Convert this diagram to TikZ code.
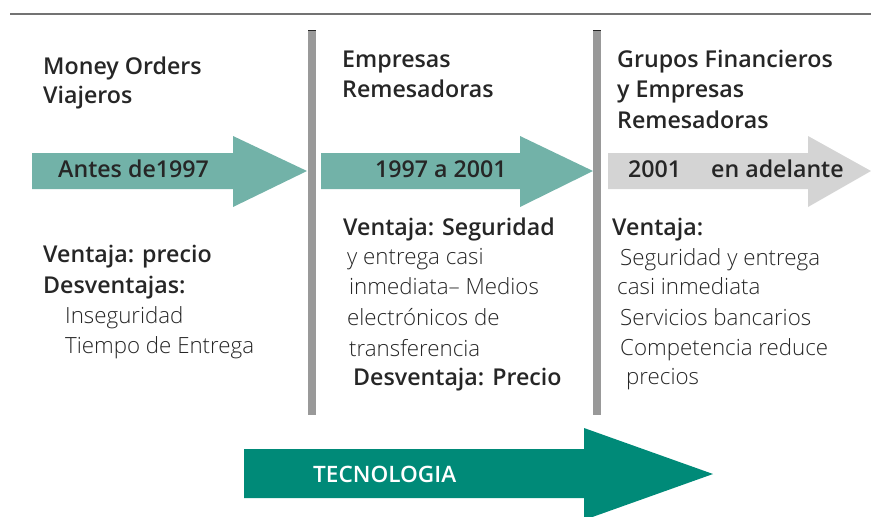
\documentclass[tikz,border=0pt]{standalone}
\usepackage{fontspec}
\setmainfont{Open Sans}[UprightFont={Open Sans Light},BoldFont={Open Sans Semibold}]
\begin{document}
\begin{tikzpicture}[x=1pt,y=-1pt,
  txt/.style={anchor=base west,inner sep=0pt,text=black!85,font=\fontsize{22.3}{26}\selectfont},
  hd/.style={txt,font=\fontsize{23.2}{26}\selectfont\bfseries},
  lt/.style={txt},
  bar/.style={fill=black!40,draw=none}]
\useasboundingbox (0,0) rectangle (871,517);
% top rule
\draw[black!55,line width=1.2pt] (10,14) -- (871,14);
% vertical bars
\fill[bar] (308,30) rectangle (315.5,415);
\fill[bar] (593,30) rectangle (600.5,415);
\draw[black!85,line width=1pt] (308,30.5) -- (315.5,30.5) (593,30.5) -- (600.5,30.5);
% arrows
\fill[fill={rgb,255:red,114;green,178;blue,168}] (32,153) -- (233,153) -- (233,136) -- (307,171) -- (233,207) -- (233,189) -- (32,189) -- cycle;
\fill[fill={rgb,255:red,114;green,178;blue,168}] (321,153) -- (520,153) -- (520,136) -- (593,171) -- (520,207) -- (520,189) -- (321,189) -- cycle;
\fill[fill={rgb,255:red,212;green,212;blue,212}] (608,153) -- (808,153) -- (808,136) -- (871,171) -- (808,207) -- (808,189) -- (608,189) -- cycle;
\fill[fill={rgb,255:red,0;green,138;blue,120}] (244,449) -- (584,449) -- (584,428) -- (713,474) -- (584,520) -- (584,498) -- (244,498) -- cycle;
% column 1
\node[hd] (c1a) at (43,74) {Money Orders};
\node[hd] (c1b) at (43,103) {Viajeros};
\node[hd] (a1) at (58,177) {Antes de1997};
\node[hd] (c1c) at (43,262) {Ventaja: precio};
\node[hd] (c1d) at (43,293) {Desventajas:};
\node[lt] (c1e) at (65,323) {Inseguridad};
\node[lt] (c1f) at (65,353) {Tiempo de Entrega};
% column 2
\node[hd] (c2a) at (342,67) {Empresas};
\node[hd] (c2b) at (342,97) {Remesadoras};
\node[hd] (a2) at (375,177) {1997 a 2001};
\node[hd] (c2c) at (343,235) {Ventaja: Seguridad};
\node[lt] (c2d) at (347,264) {y entrega casi};
\node[lt] (c2e) at (349,294) {inmediata– Medios};
\node[lt] (c2f) at (347,325) {electrónicos de};
\node[lt] (c2g) at (349,356) {transferencia};
\node[hd] (c2h) at (353,385) {Desventaja: Precio};
% column 3
\node[hd] (c3a) at (617,67) {Grupos Financieros};
\node[hd] (c3b) at (617,97) {y Empresas};
\node[hd] (c3c) at (617,128) {Remesadoras};
\node[hd] (a3a) at (628,177) {2001};
\node[hd] (a3b) at (711,177) {en adelante};
\node[hd] (c3d) at (612,235) {Ventaja:};
\node[lt] (c3e) at (620,265) {Seguridad y entrega};
\node[lt] (c3f) at (617,294) {casi inmediata};
\node[lt] (c3g) at (620,325) {Servicios bancarios};
\node[lt] (c3h) at (620,355) {Competencia reduce};
\node[lt] (c3i) at (626,384) {precios};
% bottom arrow label
\node[txt,text=white,font=\fontsize{22.6}{25}\selectfont\bfseries] (tec) at (313,482) {TECNOLOGIA};
\end{tikzpicture}
\end{document}
